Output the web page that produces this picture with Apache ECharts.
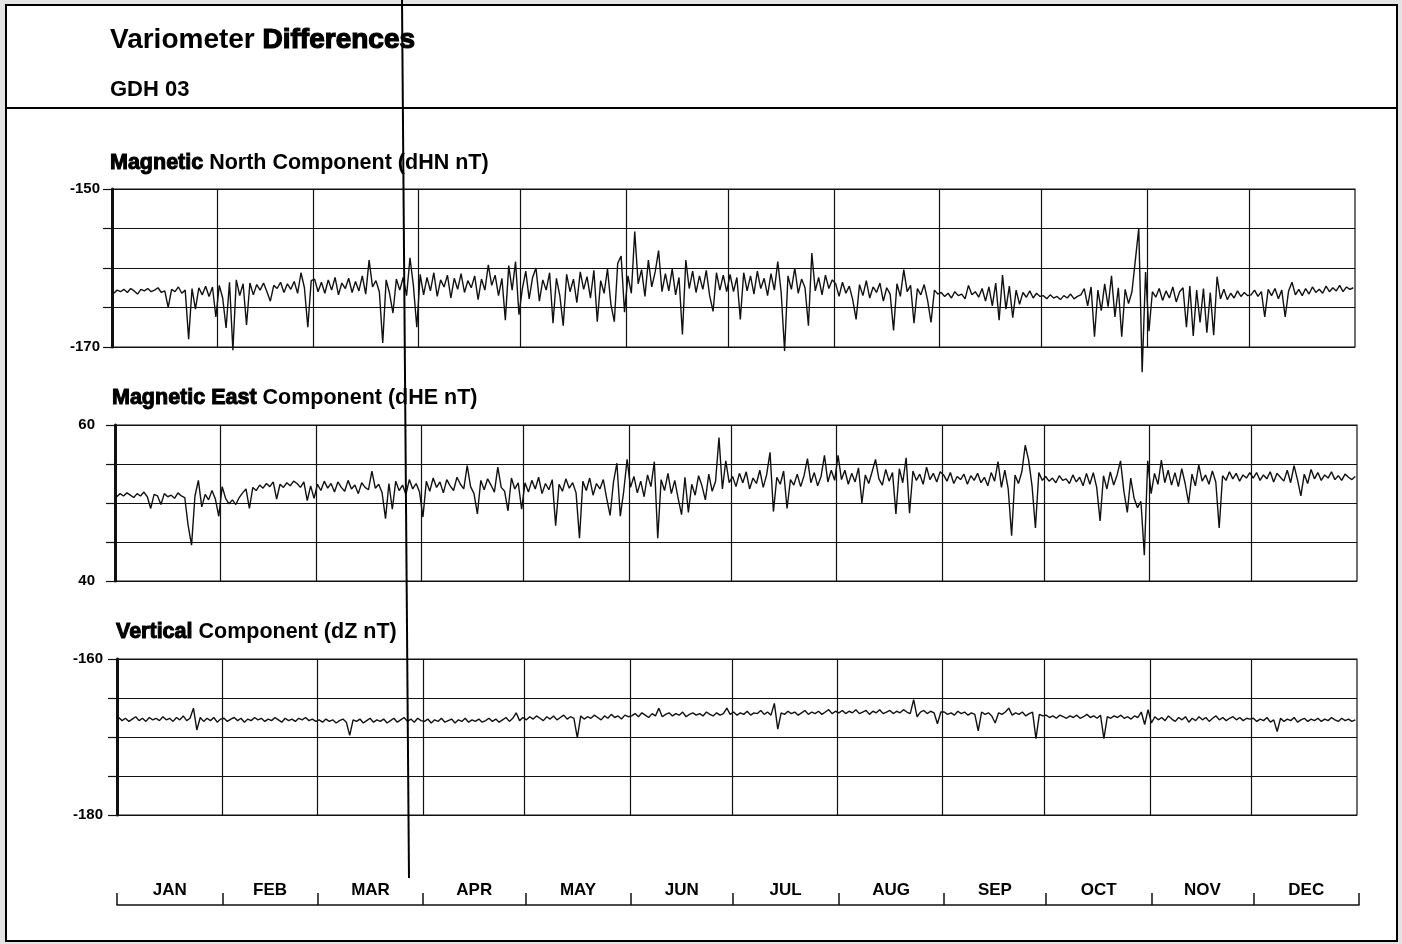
<!DOCTYPE html>
<html>
<head>
<meta charset="utf-8">
<script src="https://cdn.jsdelivr.net/npm/echarts@6/dist/echarts.min.js"></script>
<style>
  html, body { margin: 0; padding: 0; background: #e4e4e4; }
  #chart { width: 1402px; height: 944px; }
</style>
</head>
<body>
<div id="chart"></div>
<script>
const monthNames = ['JAN', 'FEB', 'MAR', 'APR', 'MAY', 'JUN', 'JUL', 'AUG', 'SEP', 'OCT', 'NOV', 'DEC'];
const monthDays = [31, 28, 31, 30, 31, 30, 31, 31, 30, 31, 30, 31];

// daily differences, one value per day of the year
const dhn = [
  -163.2,-162.8,-163.0,-162.7,-163.1,-162.6,-162.9,-163.3,-162.7,-162.9,-162.6,-163.0,-162.8,-162.5,-163.1,-162.9,-165.0,-162.7,-163.0,-162.4,-163.2,-162.8,-169.0,-162.6,-165.2,-162.5,-163.4,-162.3,-163.6,-162.4,-166.2,
  -162.2,-163.8,-167.6,-161.8,-170.4,-161.5,-163.5,-162.0,-167.2,-161.9,-163.4,-162.1,-162.8,-161.9,-163.0,-164.2,-162.2,-162.6,-161.8,-163.1,-162.0,-162.7,-161.7,-163.2,-160.6,-162.5,-167.5,-161.6,
  -161.4,-163.0,-161.8,-163.2,-161.5,-162.8,-161.2,-163.4,-161.9,-162.6,-161.3,-163.1,-161.7,-162.9,-161.0,-163.3,-159.0,-162.4,-161.6,-163.0,-169.5,-161.5,-163.2,-165.7,-161.4,-162.8,-161.2,-163.5,-158.7,-162.2,-167.5,
  -160.8,-163.4,-161.2,-162.9,-160.6,-163.6,-161.5,-162.4,-160.9,-163.8,-161.3,-162.7,-160.7,-163.1,-161.6,-162.5,-161.0,-164.0,-161.4,-162.8,-159.6,-162.2,-160.9,-163.5,-161.3,-166.6,-159.7,-162.8,-159.2,-165.9,
  -162.6,-160.4,-163.9,-161.2,-160.0,-164.2,-161.5,-162.8,-160.6,-167.0,-161.3,-163.5,-167.3,-160.8,-163.0,-161.4,-164.4,-160.5,-162.7,-161.1,-163.8,-160.3,-166.8,-161.6,-163.2,-160.1,-164.6,-166.8,-159.4,-158.5,-165.6,
  -161.0,-163.2,-155.4,-162.0,-160.2,-163.6,-159.0,-162.4,-160.5,-157.8,-163.0,-160.7,-162.9,-160.1,-163.4,-161.2,-168.4,-159.0,-162.6,-160.4,-163.1,-161.0,-162.7,-160.3,-163.5,-165.5,-160.6,-162.8,-160.9,-163.0,
  -160.8,-163.0,-161.2,-166.5,-160.6,-162.9,-161.0,-163.3,-160.4,-162.6,-161.3,-163.5,-160.7,-162.8,-159.2,-163.1,-170.5,-161.0,-162.7,-160.0,-163.2,-161.4,-162.5,-167.3,-158.1,-162.9,-161.2,-163.4,-160.9,-162.6,-161.5,
  -162.0,-163.6,-161.8,-163.2,-162.3,-164.0,-166.5,-162.1,-163.5,-161.6,-163.8,-162.4,-163.1,-161.9,-164.2,-162.5,-163.3,-167.9,-162.0,-163.6,-160.2,-163.0,-162.2,-167.0,-162.6,-163.4,-162.1,-164.1,-166.9,-162.8,-163.3,
  -163.1,-163.6,-163.2,-163.8,-163.0,-163.5,-163.3,-163.9,-162.2,-163.4,-163.0,-163.7,-162.6,-164.2,-162.4,-164.8,-161.9,-166.6,-160.9,-165.2,-162.3,-166.3,-162.8,-164.6,-163.1,-163.7,-162.9,-163.8,-163.2,-163.6,
  -163.5,-163.9,-163.4,-163.8,-163.6,-164.0,-163.5,-163.8,-163.3,-163.9,-163.6,-163.4,-162.6,-164.8,-162.4,-168.7,-162.8,-165.4,-162.0,-164.9,-161.0,-166.2,-162.5,-168.7,-162.7,-164.5,-163.0,-159.0,-155.0,-173.2,-160.5,
  -168.0,-163.0,-163.7,-162.6,-164.1,-162.9,-163.8,-162.4,-164.3,-163.0,-162.5,-167.5,-162.3,-168.6,-162.8,-166.9,-162.6,-168.2,-163.1,-168.5,-161.1,-163.9,-162.7,-164.0,-163.2,-163.8,-162.9,-163.6,-163.1,-163.5,
  -163.4,-162.8,-163.6,-163.0,-166.2,-162.7,-163.5,-162.6,-163.9,-162.8,-166.2,-162.9,-161.8,-163.4,-162.7,-163.5,-162.6,-163.3,-162.4,-163.1,-162.7,-163.2,-162.3,-163.0,-162.5,-162.9,-162.2,-163.0,-162.4,-162.7,-162.5
];

const dhe = [
  50.8,51.2,50.9,51.3,51.0,50.7,51.2,50.9,51.4,50.8,49.3,51.1,50.9,49.8,51.2,50.8,51.0,50.6,51.3,50.9,50.7,47.1,44.6,50.9,52.9,49.5,51.1,50.4,51.6,50.5,48.3,
  52.1,50.6,49.9,50.4,49.8,50.7,51.3,51.8,49.3,52.0,51.6,52.3,51.9,52.5,52.1,52.7,50.5,52.4,52.0,52.6,52.2,52.8,52.5,52.0,52.7,50.3,52.2,50.6,
  52.4,51.6,52.8,51.9,52.5,51.4,52.7,52.0,51.5,52.9,51.8,52.3,51.2,52.6,52.0,51.7,54.1,51.9,52.4,51.3,48.0,52.5,49.2,52.8,51.6,52.3,51.1,53.0,51.8,52.5,51.4,
  48.2,52.8,51.5,53.2,52.0,52.7,51.3,53.0,52.2,51.6,53.3,52.4,51.8,54.8,52.1,51.2,48.6,52.9,51.7,53.1,52.3,51.4,54.6,52.0,51.5,49.0,53.2,51.8,52.6,49.2,
  52.6,51.4,52.9,51.8,53.3,51.2,52.5,51.7,53.0,47.1,52.4,51.5,53.1,51.9,52.6,51.3,45.5,52.8,51.6,53.2,51.0,52.5,51.8,53.0,50.6,48.4,52.7,55.1,48.3,51.5,55.6,
  52.0,53.4,51.3,52.8,50.8,53.6,52.1,55.3,45.5,53.0,51.6,53.8,51.2,52.9,50.6,48.5,53.3,48.8,52.4,51.0,53.5,52.2,50.4,53.7,51.5,52.8,58.4,51.8,55.4,52.6,
  53.4,52.1,53.8,52.6,54.0,51.8,53.2,52.5,54.2,52.0,53.6,56.5,48.9,53.3,52.4,54.1,49.3,53.0,52.3,53.7,52.1,53.5,55.7,52.6,53.9,52.2,53.4,56.1,52.7,54.2,52.9,
  56.1,53.0,54.2,52.4,53.8,52.7,54.5,50.0,53.6,52.5,54.0,55.6,53.1,52.3,54.3,52.8,53.9,48.6,54.4,52.6,55.8,48.7,54.1,52.9,53.7,52.4,54.6,53.0,53.8,52.7,54.0,
  53.6,52.8,53.9,52.5,53.4,53.0,53.7,52.4,53.5,52.9,53.8,52.6,53.3,52.2,53.9,52.8,55.3,52.0,54.2,51.8,45.8,53.6,52.5,54.0,57.4,55.5,52.2,46.8,53.9,52.9,
  53.4,52.8,53.2,52.6,53.5,52.9,53.1,52.5,53.6,52.7,53.3,52.2,53.8,52.4,53.9,52.0,47.7,53.5,51.8,54.0,52.3,53.6,55.4,51.5,48.8,53.2,50.6,49.4,50.2,43.3,55.4,
  51.2,53.8,52.4,55.5,52.6,54.2,52.3,53.9,52.1,54.4,52.5,50.0,53.7,52.2,54.9,52.8,53.6,52.4,54.1,52.7,46.8,53.5,52.9,54.0,53.1,53.8,52.8,53.6,53.2,53.9,
  53.2,53.9,52.9,53.6,53.1,54.0,52.7,53.8,53.3,52.8,54.2,52.6,54.8,53.0,50.9,53.7,52.5,54.3,53.1,53.9,52.9,53.6,53.2,54.0,53.0,53.5,52.9,53.7,53.3,53.0,53.4
];

const dz = [
  -167.5,-167.9,-167.6,-168.0,-167.7,-167.4,-167.9,-167.6,-168.0,-167.5,-167.8,-167.6,-167.9,-167.4,-167.8,-167.6,-168.0,-167.5,-167.8,-167.3,-167.9,-167.6,-166.3,-169.1,-167.5,-168.0,-167.6,-167.9,-167.5,-168.1,-167.7,
  -167.6,-168.0,-167.7,-167.5,-167.9,-167.6,-168.1,-167.7,-167.9,-167.5,-167.8,-167.6,-168.0,-167.7,-167.9,-167.5,-167.8,-168.1,-167.6,-167.9,-167.7,-168.0,-167.6,-167.8,-167.5,-167.9,-167.7,-168.0,
  -167.8,-168.1,-167.7,-168.0,-167.8,-168.2,-167.9,-167.7,-168.1,-169.8,-167.8,-168.0,-167.7,-168.2,-167.9,-167.6,-168.1,-167.8,-168.0,-167.7,-168.2,-167.9,-167.6,-168.1,-167.8,-167.5,-168.0,-167.7,-168.1,-167.6,-167.9,
  -168.0,-167.7,-168.2,-167.8,-168.0,-167.6,-168.1,-167.9,-167.7,-168.2,-167.8,-168.0,-167.6,-168.1,-167.8,-168.0,-167.7,-168.1,-167.9,-167.6,-168.0,-167.7,-168.1,-167.8,-167.5,-168.0,-167.6,-166.9,-167.9,-167.5,
  -167.8,-167.4,-167.7,-167.3,-167.6,-167.9,-167.4,-167.7,-167.3,-167.8,-167.5,-167.2,-167.7,-167.4,-167.6,-170.1,-167.3,-167.7,-167.4,-167.6,-167.2,-167.5,-167.8,-167.3,-167.6,-167.1,-167.5,-167.3,-167.7,-167.2,-167.4,
  -167.3,-167.0,-167.4,-166.9,-167.2,-167.5,-167.0,-167.3,-166.3,-167.4,-167.1,-166.9,-167.3,-167.0,-167.2,-166.8,-167.4,-167.1,-166.9,-167.2,-167.0,-167.3,-166.8,-167.1,-167.3,-166.9,-167.2,-167.0,-166.3,-167.1,
  -166.8,-167.2,-166.9,-167.1,-166.7,-167.2,-166.9,-167.0,-166.6,-167.1,-166.8,-167.2,-165.7,-169.0,-166.9,-167.1,-166.7,-167.0,-166.8,-167.2,-166.9,-166.6,-167.1,-166.8,-167.0,-166.7,-167.1,-166.8,-166.5,-167.0,-166.7,
  -166.9,-166.6,-167.0,-166.7,-166.9,-166.5,-167.0,-166.8,-166.6,-167.1,-166.7,-166.9,-166.5,-167.0,-166.8,-166.6,-167.0,-166.7,-166.9,-166.5,-166.8,-167.0,-165.2,-167.4,-166.8,-166.6,-167.0,-166.7,-166.9,-168.3,-166.8,
  -166.8,-167.1,-166.9,-167.2,-166.7,-167.0,-166.8,-167.2,-166.9,-167.1,-169.2,-166.8,-167.1,-166.9,-167.3,-168.2,-166.9,-167.1,-166.8,-166.3,-167.2,-166.9,-167.1,-166.8,-167.3,-167.0,-166.8,-170.2,-167.1,-167.3,
  -167.2,-167.5,-167.3,-167.6,-167.2,-167.4,-167.6,-167.3,-167.5,-167.2,-167.6,-167.4,-167.1,-167.5,-167.3,-167.6,-167.2,-170.2,-167.4,-167.6,-167.3,-167.5,-167.2,-167.6,-167.4,-167.7,-167.3,-167.5,-166.8,-168.4,-166.5,
  -168.2,-167.4,-167.8,-167.5,-167.9,-167.3,-167.7,-168.0,-167.5,-167.8,-167.4,-168.1,-167.6,-167.9,-167.4,-167.8,-167.5,-168.0,-167.6,-167.3,-167.8,-167.5,-167.9,-167.6,-167.4,-167.8,-167.5,-167.9,-167.6,-167.7,
  -167.6,-168.0,-167.7,-167.9,-167.5,-168.1,-167.8,-169.3,-167.6,-168.0,-167.7,-167.9,-167.5,-168.1,-167.8,-167.6,-168.0,-167.7,-167.9,-167.6,-168.0,-167.7,-167.9,-167.5,-167.8,-168.0,-167.6,-167.9,-167.7,-168.0,-167.8
];

const monthStarts = [0];
monthDays.forEach((d, i) => monthStarts.push(monthStarts[i] + d));
const monthMids = monthDays.map((d, i) => monthStarts[i] + d / 2);

const ink = '#111';
const font = '"Liberation Sans", Arial, sans-serif';

function panel(i, values, min, max, box, labelMargin)
{
    const grid = {
        left: box[0], top: box[1], width: box[2], height: box[3],
        show: true, borderColor: ink, borderWidth: 1.2, backgroundColor: '#fff'
    };
    const xAxis = {
        gridIndex: i, type: 'value', min: 0, max: 365,
        axisLine: { show: false }, axisTick: { show: false },
        axisLabel: { show: false }, splitLine: { show: false }
    };
    const yAxis = {
        gridIndex: i, type: 'value', min: min, max: max, interval: 5,
        axisLine: { show: true, lineStyle: { color: ink, width: 3 } },
        axisTick: { show: true, length: 9, lineStyle: { color: ink, width: 1.2 } },
        splitLine: { show: true, lineStyle: { color: ink, width: 1.2 } },
        axisLabel: {
            margin: labelMargin, color: '#000', fontFamily: font,
            fontWeight: 'bold', fontSize: 15,
            formatter: (v) => (v === min || v === max) ? String(v) : ''
        }
    };
    const series = {
        type: 'line', xAxisIndex: i, yAxisIndex: i,
        data: values.map((v, d) => [d + 0.5, v]),
        showSymbol: false, symbol: 'none', clip: false, silent: true,
        lineStyle: { color: ink, width: 1.4 },
        markLine: {
            symbol: 'none', silent: true, animation: false,
            label: { show: false },
            lineStyle: { color: ink, type: 'solid', width: 1.2 },
            data: monthStarts.slice(1, 12).map((d) => ({ xAxis: d }))
        }
    };
    return { grid, xAxis, yAxis, series };
}

const panels = [
    panel(0, dhn, -170, -150, [112, 189, 1243, 158], 12),
    panel(1, dhe, 40, 60, [115, 425, 1242, 156], 20),
    panel(2, dz, -180, -160, [117, 659, 1240, 156], 14)
];

function f(size) { return 'bold ' + size + 'px ' + font; }

function title(x, y, text, size, heavyPart, plainPart)
{
    const style = { fill: '#000', font: f(size), verticalAlign: 'middle' };
    if (plainPart === undefined) {
        style.text = text;
    } else {
        style.text = '{b|' + heavyPart + '}{a|' + plainPart + '}';
        style.rich = {
            a: { font: f(size), fill: '#000' },
            b: { font: f(size), fill: '#000', stroke: '#000', lineWidth: 1 }
        };
    }
    return { type: 'text', x: x, y: y, z: 10, style: style };
}

const option = {
    animation: false,
    backgroundColor: '#e4e4e4',
    grid: panels.map((p) => p.grid).concat([{ left: 117, top: 880, width: 1242, height: 25 }]),
    xAxis: panels.map((p) => p.xAxis).concat([{
        gridIndex: 3, type: 'value', min: 0, max: 365,
        axisLine: { show: true, lineStyle: { color: ink, width: 1.5 } },
        axisTick: { show: true, inside: true, length: 12, customValues: monthStarts, lineStyle: { color: ink, width: 1.5 } },
        axisLabel: {
            inside: true, margin: 6, customValues: monthMids, color: '#000',
            fontFamily: font, fontWeight: 'bold', fontSize: 17,
            formatter: (v) => {
                let best = 0;
                monthMids.forEach((m, k) => { if (Math.abs(m - v) < Math.abs(monthMids[best] - v)) best = k; });
                return monthNames[best];
            }
        },
        splitLine: { show: false }
    }]),
    yAxis: panels.map((p) => p.yAxis).concat([{ gridIndex: 3, show: false, min: 0, max: 1 }]),
    series: panels.map((p) => p.series),
    graphic: [
        { type: 'rect', z: -10, shape: { x: 6, y: 5, width: 1391, height: 936 },
          style: { fill: '#fff', stroke: '#000', lineWidth: 2 } },
        { type: 'line', z: 5, shape: { x1: 6, y1: 108, x2: 1397, y2: 108 },
          style: { stroke: '#000', lineWidth: 2 } },
        {
            type: 'text', x: 110, y: 40, z: 10,
            style: {
                text: '{a|Variometer }{b|Differences}', fill: '#000', font: f(28), verticalAlign: 'middle',
                rich: {
                    a: { font: f(28), fill: '#000' },
                    b: { font: f(28), fill: '#000', stroke: '#000', lineWidth: 1.2 }
                }
            }
        },
        title(110, 90, 'GDH 03', 22),
        title(110, 163, '', 21.5, 'Magnetic', ' North Component (dHN nT)'),
        title(112, 398, '', 21.5, 'Magnetic East', ' Component (dHE nT)'),
        title(116, 632, '', 21.5, 'Vertical', ' Component (dZ nT)'),
        // stray scan line crossing the sheet
        { type: 'line', z: 20, shape: { x1: 402, y1: 0, x2: 409, y2: 878 },
          style: { stroke: '#000', lineWidth: 2 } }
    ]
};

const chart = echarts.init(document.getElementById('chart'));
chart.setOption(option);
</script>
</body>
</html>
